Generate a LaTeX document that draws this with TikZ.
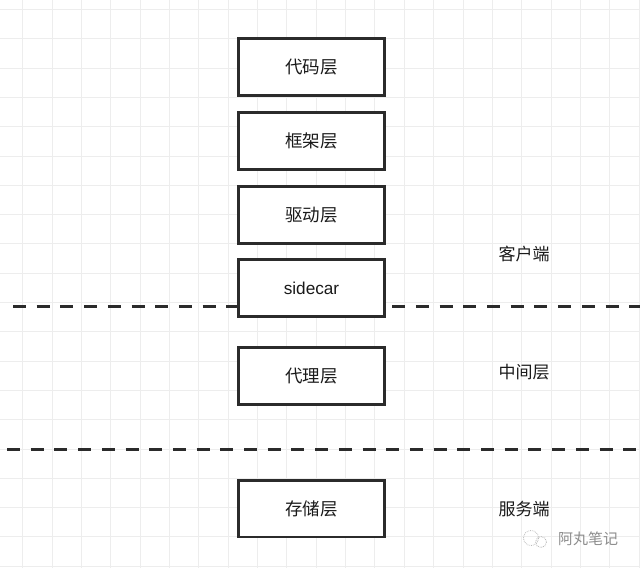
\documentclass[tikz,border=0pt]{standalone}
\usepackage{fontspec}
\setmainfont{Liberation Sans}
\newfontfamily\cjk{Noto Sans CJK SC}
\definecolor{gridc}{HTML}{EDEDED}
\definecolor{boxc}{HTML}{2B2B2B}
\definecolor{txtc}{HTML}{1A1A1A}
\definecolor{wmc}{HTML}{8C8C8C}
\tikzset{
  layerbox/.style={draw=boxc, line width=2.7pt, fill=white, minimum width=145.7pt,
    minimum height=56.7pt, inner sep=0pt, outer sep=0pt, text=txtc,
    font=\cjk\fontsize{17.5}{19}\selectfont},
  sidelabel/.style={text=txtc, inner sep=0pt, font=\cjk\fontsize{17}{19}\selectfont},
  divider/.style={draw=boxc, line width=3pt, dash pattern=on 13pt off 10.7pt},
  watermark/.style={text=wmc, inner sep=0pt, font=\cjk\fontsize{15}{17}\selectfont}
}
\begin{document}
\begin{tikzpicture}[x=1pt,y=-1pt]
\useasboundingbox (0,0) rectangle (640,568);
\fill[white] (0,0) rectangle (640,568);
% grid
\foreach \i in {0,...,21} {
  \draw[gridc, line width=0.9pt] ({22.7+29.35*\i},0) -- ({22.7+29.35*\i},568);
}
\foreach \j in {0,...,19} {
  \draw[gridc, line width=0.9pt] (0,{9.5+29.3*\j}) -- (640,{9.5+29.3*\j});
}
% dividers
\coordinate (d1a) at (13,306);
\coordinate (d1b) at (640,306);
\coordinate (d2a) at (7,449);
\coordinate (d2b) at (640,449);
\draw[divider] (d1a) -- (d1b);
\draw[divider] (d2a) -- (d2b);
% boxes
\node[layerbox] (code) at (311.5,67) {代码层};
\node[layerbox] (frame) at (311.5,141) {框架层};
\node[layerbox] (driver) at (311.5,215) {驱动层};
\node[layerbox, font=\fontsize{17.2}{19}\selectfont] (sidecar) at (311.5,288) {sidecar};
\node[layerbox] (proxy) at (311.5,376) {代理层};
\node[layerbox] (store) at (311.5,508.5) {存储层};
% side labels
\node[sidelabel] (client) at (524,254) {客户端};
\node[sidelabel] (middle) at (524,372) {中间层};
\node[sidelabel] (server) at (524,509) {服务端};
% watermark
\draw[wmc!60, line width=0.8pt, densely dotted] (531,538) circle (7.5);
\draw[wmc!60, line width=0.8pt, densely dotted] (541,542) circle (5.5);
\node[watermark] (wm) at (588,539) {阿丸笔记};
\end{tikzpicture}
\end{document}
